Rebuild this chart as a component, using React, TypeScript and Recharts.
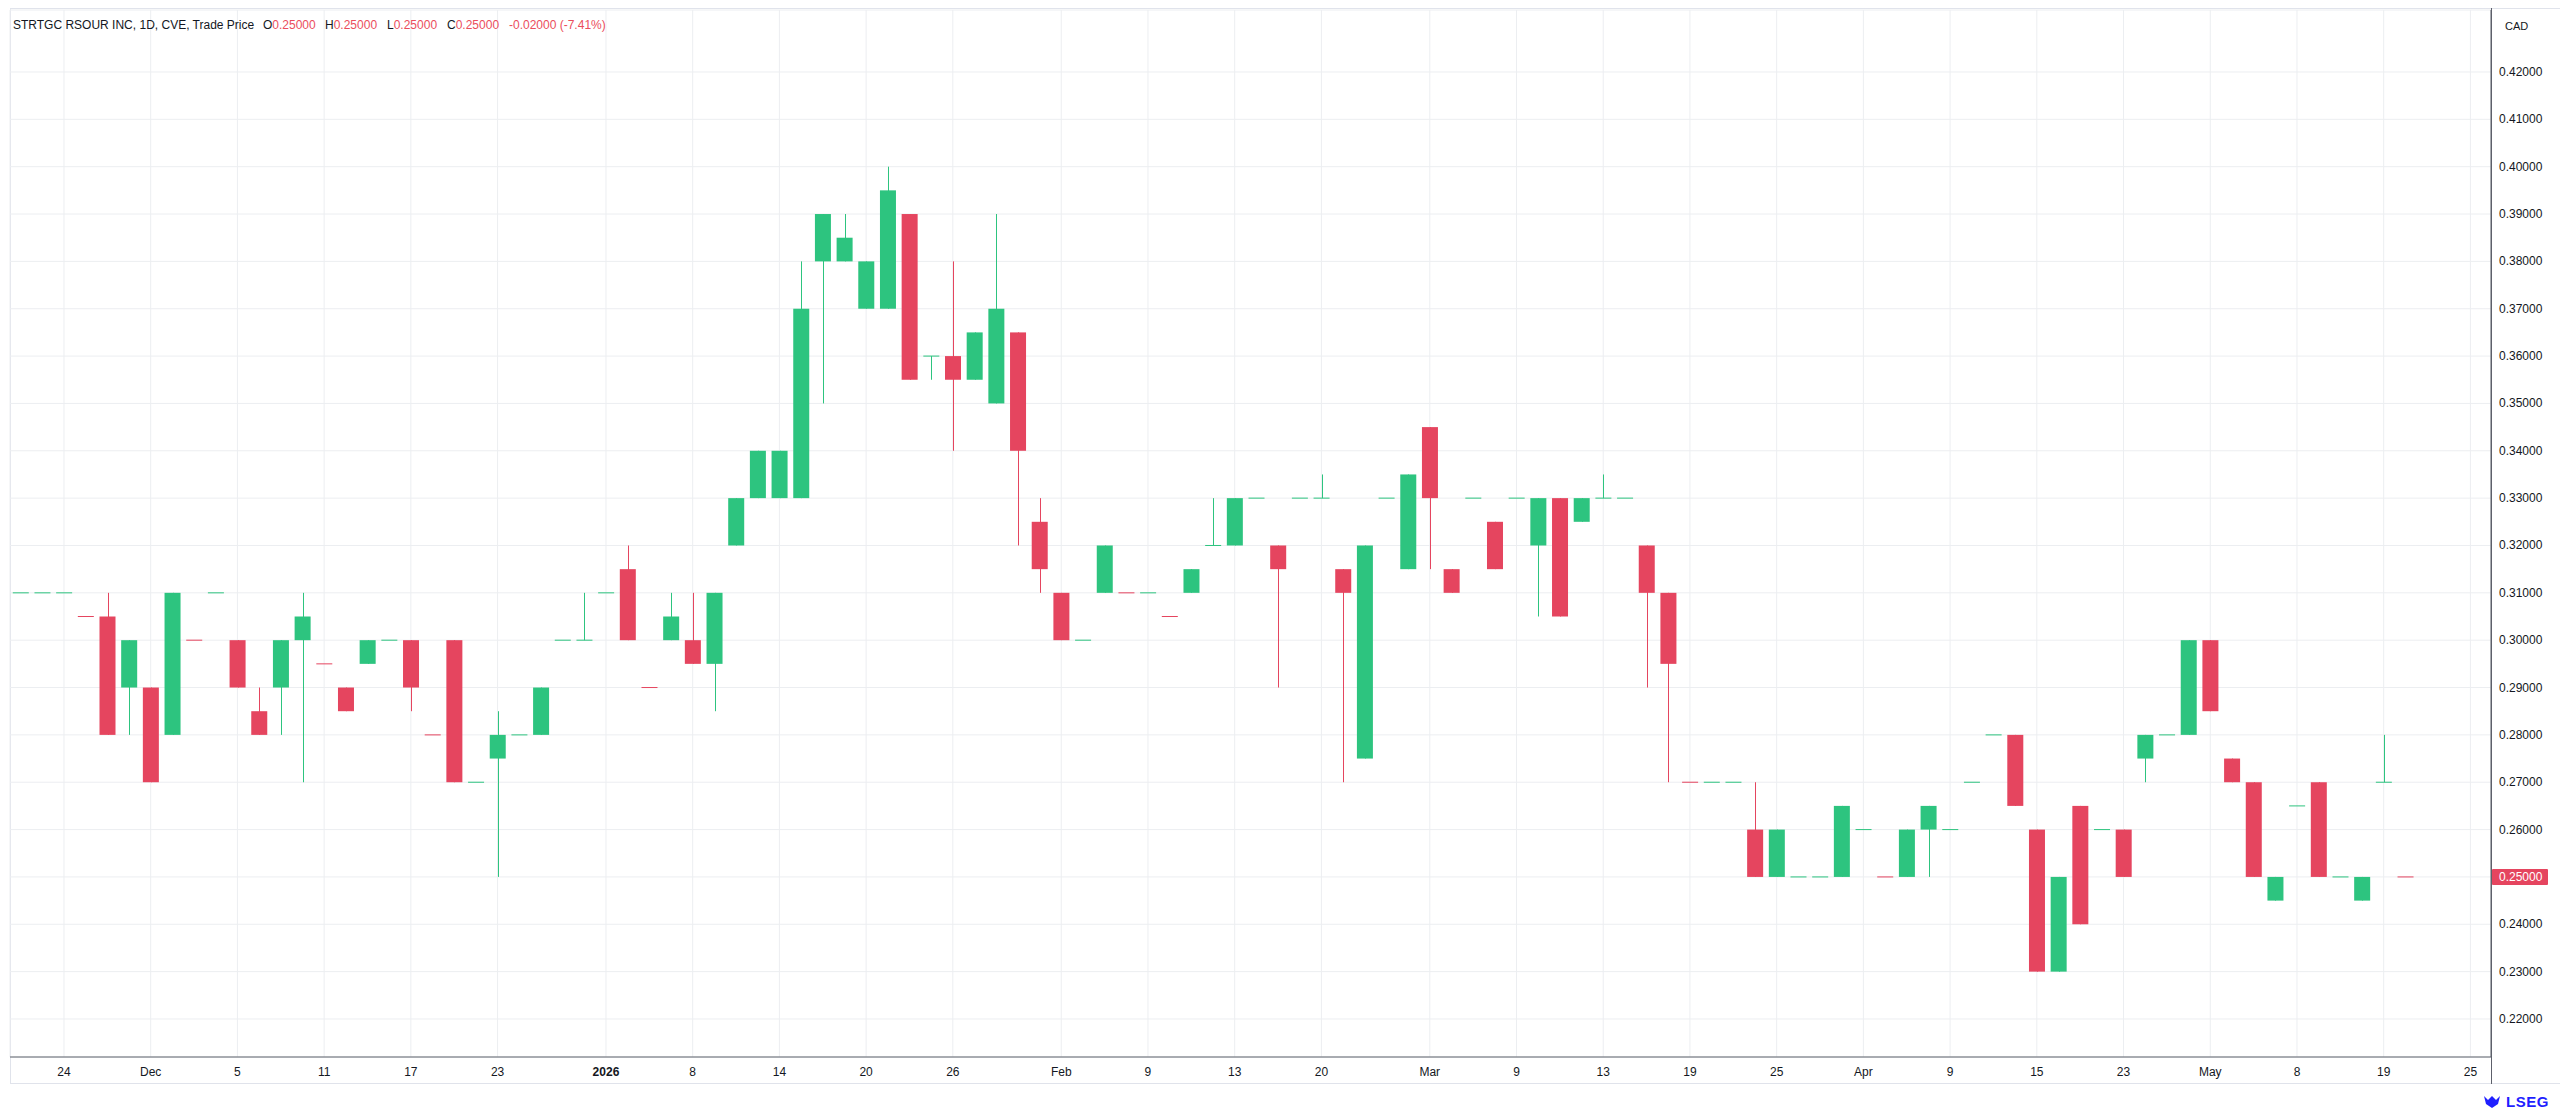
import { ComposedChart, Bar, XAxis, YAxis, CartesianGrid, ReferenceLine } from 'recharts';

// daily bars, oldest first (one bar per day that traded)
const opens = [
  0.31, 0.31, 0.31, 0.305, 0.305, 0.29, 0.29, 0.28, 0.3, 0.31,
  0.3, 0.285, 0.29, 0.3, 0.295, 0.29, 0.295, 0.3, 0.3, 0.28,
  0.3, 0.27, 0.275, 0.28, 0.28, 0.3, 0.3, 0.31, 0.315, 0.29,
  0.3, 0.3, 0.295, 0.32, 0.33, 0.33, 0.33, 0.39, 0.385, 0.37,
  0.37, 0.39, 0.36, 0.36, 0.355, 0.35, 0.365, 0.325, 0.31, 0.3,
  0.31, 0.31, 0.31, 0.305, 0.31, 0.32, 0.32, 0.33, 0.32, 0.33,
  0.33, 0.315, 0.275, 0.33, 0.315, 0.345, 0.315, 0.33, 0.325, 0.33,
  0.32, 0.33, 0.325, 0.33, 0.33, 0.32, 0.31, 0.27, 0.27, 0.27,
  0.26, 0.26, 0.25, 0.25, 0.265, 0.26, 0.25, 0.25, 0.265, 0.26,
  0.27, 0.28, 0.28, 0.26, 0.23, 0.265, 0.26, 0.26, 0.275, 0.28,
  0.28, 0.3, 0.275, 0.27, 0.245, 0.265, 0.27, 0.25, 0.245, 0.27,
  0.25,
];
const highs = [
  0.31, 0.31, 0.31, 0.305, 0.31, 0.3, 0.29, 0.31, 0.3, 0.31,
  0.3, 0.29, 0.3, 0.31, 0.295, 0.29, 0.3, 0.3, 0.3, 0.28,
  0.3, 0.27, 0.285, 0.28, 0.29, 0.3, 0.31, 0.31, 0.32, 0.29,
  0.31, 0.31, 0.31, 0.33, 0.34, 0.34, 0.38, 0.39, 0.39, 0.38,
  0.4, 0.39, 0.36, 0.38, 0.365, 0.39, 0.365, 0.33, 0.31, 0.3,
  0.32, 0.31, 0.31, 0.305, 0.315, 0.33, 0.33, 0.33, 0.32, 0.33,
  0.335, 0.315, 0.32, 0.33, 0.335, 0.345, 0.315, 0.33, 0.325, 0.33,
  0.33, 0.33, 0.33, 0.335, 0.33, 0.32, 0.31, 0.27, 0.27, 0.27,
  0.27, 0.26, 0.25, 0.25, 0.265, 0.26, 0.25, 0.26, 0.265, 0.26,
  0.27, 0.28, 0.28, 0.26, 0.25, 0.265, 0.26, 0.26, 0.28, 0.28,
  0.3, 0.3, 0.275, 0.27, 0.25, 0.265, 0.27, 0.25, 0.25, 0.28,
  0.25,
];
const lows = [
  0.31, 0.31, 0.31, 0.305, 0.28, 0.28, 0.27, 0.28, 0.3, 0.31,
  0.29, 0.28, 0.28, 0.27, 0.295, 0.285, 0.295, 0.3, 0.285, 0.28,
  0.27, 0.27, 0.25, 0.28, 0.28, 0.3, 0.3, 0.31, 0.3, 0.29,
  0.3, 0.295, 0.285, 0.32, 0.33, 0.33, 0.33, 0.35, 0.38, 0.37,
  0.37, 0.355, 0.355, 0.34, 0.355, 0.35, 0.32, 0.31, 0.3, 0.3,
  0.31, 0.31, 0.31, 0.305, 0.31, 0.32, 0.32, 0.33, 0.29, 0.33,
  0.33, 0.27, 0.275, 0.33, 0.315, 0.315, 0.31, 0.33, 0.315, 0.33,
  0.305, 0.305, 0.325, 0.33, 0.33, 0.29, 0.27, 0.27, 0.27, 0.27,
  0.25, 0.25, 0.25, 0.25, 0.25, 0.26, 0.25, 0.25, 0.25, 0.26,
  0.27, 0.28, 0.265, 0.23, 0.23, 0.24, 0.26, 0.25, 0.27, 0.28,
  0.28, 0.285, 0.27, 0.25, 0.245, 0.265, 0.25, 0.25, 0.245, 0.27,
  0.25,
];
const closes = [
  0.31, 0.31, 0.31, 0.305, 0.28, 0.3, 0.27, 0.31, 0.3, 0.31,
  0.29, 0.28, 0.3, 0.305, 0.295, 0.285, 0.3, 0.3, 0.29, 0.28,
  0.27, 0.27, 0.28, 0.28, 0.29, 0.3, 0.3, 0.31, 0.3, 0.29,
  0.305, 0.295, 0.31, 0.33, 0.34, 0.34, 0.37, 0.38, 0.38, 0.38,
  0.395, 0.355, 0.36, 0.355, 0.365, 0.37, 0.34, 0.315, 0.3, 0.3,
  0.32, 0.31, 0.31, 0.305, 0.315, 0.32, 0.33, 0.33, 0.315, 0.33,
  0.33, 0.31, 0.32, 0.33, 0.335, 0.33, 0.31, 0.33, 0.315, 0.33,
  0.33, 0.305, 0.33, 0.33, 0.33, 0.31, 0.295, 0.27, 0.27, 0.27,
  0.25, 0.25, 0.25, 0.25, 0.25, 0.26, 0.25, 0.26, 0.26, 0.26,
  0.27, 0.28, 0.265, 0.23, 0.25, 0.24, 0.26, 0.25, 0.28, 0.28,
  0.3, 0.285, 0.27, 0.25, 0.25, 0.265, 0.25, 0.25, 0.25, 0.27,
  0.25,
];

// time axis: bar index of each label and its text
const tickIndexes = [2, 6, 10, 14, 18, 22, 27, 31, 35, 39, 43, 48, 52, 56, 60, 65, 69, 73, 77, 81, 85, 89, 93, 97, 101, 105, 109, 113];
const tickLabels = ['24', 'Dec', '5', '11', '17', '23', '2026', '8', '14', '20', '26', 'Feb', '9', '13', '20', 'Mar', '9', '13', '19', '25', 'Apr', '9', '15', '23', 'May', '8', '19', '25'];

const priceTicks = [0.22, 0.23, 0.24, 0.25, 0.26, 0.27, 0.28, 0.29, 0.3, 0.31, 0.32, 0.33, 0.34, 0.35, 0.36, 0.37, 0.38, 0.39, 0.4, 0.41, 0.42];
const lastPrice = 0.25;

const UP = '#2dc47f';
const DOWN = '#e5455f';
const FONT = '"Liberation Sans", Arial, sans-serif';
const TEXT = '#131722';
const AXIS = '#5d606b';

// TradingView-style colouring: compared with the previous close
const rows = opens.map((o, i) => ({
  i,
  o,
  h: highs[i],
  l: lows[i],
  c: closes[i],
  range: [lows[i], highs[i]],
  up: i === 0 || closes[i] >= closes[i - 1],
}));

function Candle(props: any) {
  const { x, y, width, height, payload } = props;
  const { o, h, l, c, up } = payload;
  const color = up ? UP : DOWN;
  const cx = Math.round(x + width / 2) + 0.5;
  const k = h > l ? height / (h - l) : 0;
  const top = y + (h - Math.max(o, c)) * k;
  const bottom = y + (h - Math.min(o, c)) * k;
  const bh = Math.max(bottom - top, 1);
  return (
    <g>
      {height > 0 && <line x1={cx} x2={cx} y1={y} y2={y + height} stroke={color} strokeWidth={1} />}
      <rect x={x} y={bh === 1 ? top - 0.5 : top} width={width} height={bh} fill={color} />
    </g>
  );
}

function TimeTick({ x, y, payload }: any) {
  const idx = tickIndexes.indexOf(payload.value);
  const label = tickLabels[idx];
  return (
    <text x={x} y={y + 15} textAnchor="middle" dominantBaseline="central" fontSize={12} fontFamily={FONT}
      fill={TEXT} fontWeight={label === '2026' ? 700 : 400}>
      {label}
    </text>
  );
}

function PriceTick({ x, y, payload }: any) {
  // the last price is shown by its own tag instead
  if (Math.abs(payload.value - lastPrice) < 1e-9) return <g />;
  return (
    <text x={x + 8} y={y} dominantBaseline="central" fontSize={12} fontFamily={FONT} fill={TEXT}>
      {payload.value.toFixed(5)}
    </text>
  );
}

function PriceTag(props: any) {
  const vb = props.viewBox || {};
  const left = vb.x + vb.width + 1;
  return (
    <g>
      <rect x={left} y={vb.y - 8} width={56} height={16} fill={DOWN} rx={1} />
      <text x={left + 7} y={vb.y} dominantBaseline="central" fontSize={12} fontFamily={FONT} fill="#ffffff">
        {lastPrice.toFixed(5)}
      </text>
    </g>
  );
}

const red = { color: '#eb4d5c' };
const legend = { position: 'absolute' as const, top: 17, fontSize: 12, color: TEXT, whiteSpace: 'nowrap' as const, lineHeight: '16px' };

export default function App() {
  return (
    <div style={{ position: 'absolute', left: 0, top: 0, width: 2560, height: 1115, background: '#fff', fontFamily: FONT }}>
      <div style={{ position: 'absolute', left: 10, top: 8, width: 2549, height: 1074, border: '1px solid #e0e3eb' }} />
      <ComposedChart width={2560} height={1115} data={rows} margin={{ top: 10, right: 0, bottom: 0, left: 10 }}>
        <CartesianGrid stroke="#eceef1" />
        <XAxis
          dataKey="i"
          type="number"
          domain={[-0.49, 113.95]}
          allowDataOverflow
          ticks={tickIndexes}
          interval={0}
          height={58}
          tickSize={0}
          tickMargin={0}
          tickLine={false}
          axisLine={{ stroke: AXIS }}
          tick={<TimeTick />}
        />
        <YAxis
          orientation="right"
          type="number"
          domain={[0.21197, 0.43309]}
          allowDataOverflow
          ticks={priceTicks}
          interval={0}
          width={69}
          tickSize={0}
          tickMargin={0}
          tickLine={false}
          axisLine={{ stroke: AXIS }}
          tick={<PriceTick />}
        />
        <Bar dataKey="range" barSize={16} shape={<Candle />} isAnimationActive={false} />
        <ReferenceLine y={lastPrice} stroke="none" ifOverflow="visible" label={<PriceTag />} />
      </ComposedChart>

      <div style={{ position: 'absolute', left: 2491, top: 8, width: 1, height: 1076, background: AXIS }} />

      <div style={{ ...legend, left: 13 }}>STRTGC RSOUR INC, 1D, CVE, Trade Price</div>
      <div style={{ ...legend, left: 263 }}>O<span style={red}>0.25000</span></div>
      <div style={{ ...legend, left: 325 }}>H<span style={red}>0.25000</span></div>
      <div style={{ ...legend, left: 387 }}>L<span style={red}>0.25000</span></div>
      <div style={{ ...legend, left: 447 }}>C<span style={red}>0.25000</span></div>
      <div style={{ ...legend, left: 509, ...red }}>-0.02000 (-7.41%)</div>

      <div style={{ position: 'absolute', top: 18, left: 2505, fontSize: 11, color: TEXT, lineHeight: '16px' }}>CAD</div>

      <div style={{ position: 'absolute', top: 1093, left: 2482, display: 'flex', alignItems: 'center', gap: 4 }}>
        <svg width={20} height={16} viewBox="0 0 20 16">
          <path d="M2 2 L6 6 L10 2 L14 6 L18 2 L16 10 L10 14 L4 10 Z" fill="#1f1fff" />
        </svg>
        <span style={{ fontSize: 15, fontWeight: 700, color: '#1f1fff', letterSpacing: 0.5 }}>LSEG</span>
      </div>
    </div>
  );
}
